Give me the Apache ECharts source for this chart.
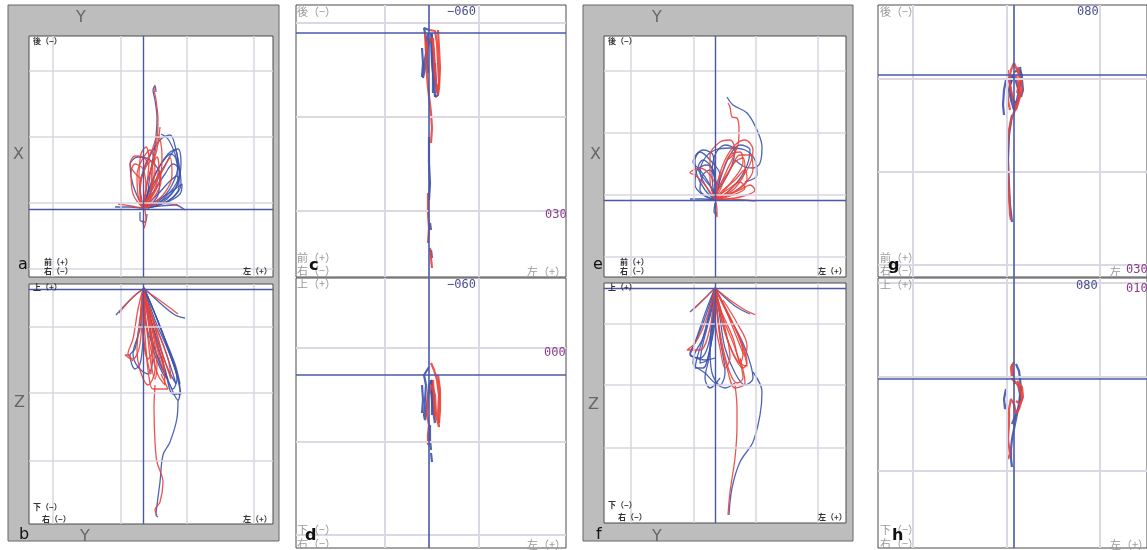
<!DOCTYPE html>
<html><head><meta charset="utf-8">
<script src="https://cdn.jsdelivr.net/npm/echarts@6/dist/echarts.min.js"></script>
<style>html,body{margin:0;padding:0;background:#fff}#c{width:1147px;height:550px}</style>
</head><body><div id="c"></div>
<script>
// ---- axis ranges (data units, origin at the crosshair) ----
const aX=[-114,130], aY=[-173,68];
const bX=[-114,130], bY=[-235,5];
const cX=[-133,137], cY=[-28,244];
const dX=[-133,137], dY=[-173,97];
const eX=[-111,131], eY=[-164,77];
const fX=[-111,131], fY=[-235,5];
const gX=[-136,133], gY=[-70,202];
const hX=[-136,133], hY=[-169,101];
// ---- grid line values ----
const aGX=[-90,-22,44,111], aGY=[-138,-72,-6,60];
const bGX=[-90,-22,44,111], bGY=[-38,-104,-172];
const cGX=[-44,50], cGY=[-10,84,178];
const dGX=[-44,50], dGY=[27,-67,-160];
const eGX=[-84,-21,41,103], eGY=[-129,-67,-5,57];
const fGX=[-84,-21,41,103], fGY=[-36,-97,-160];
const gGX=[-101,-7,86], gGY=[4,97,190];
const hGX=[-101,-7,86], hGY=[96,2,-92];
// ---- trajectories ----
const aRed=[
 [[0,-1],[7,-9],[9,-39],[14,-69],[15,-89],[13,-109],[11,-121],[12,-124]],
 [[0,-1],[-3,-19],[2,-44],[9,-59],[15,-74],[19,-54],[17,-29],[7,-9],[0,-1]],
 [[0,-1],[-5,-14],[-6,-34],[-1,-49],[7,-59],[12,-39],[7,-14],[0,-1]],
 [[0,-1],[9,-19],[20,-39],[27,-51],[29,-34],[20,-14],[2,-1]],
 [[0,-1],[-10,-15],[-12,-35],[-8,-45],[0,-40],[3,-20],[0,-1]],
 [[17,-82],[14,-60],[8,-40],[3,-22]],
 [[-25,-5],[-12,-3],[0,-1],[20,-6],[35,-4]],
 [[2,1],[3,11],[1,19],[0,11]],
 [[0,-1],[4,-25],[6,-50],[3,-62],[-2,-55],[-4,-30],[0,-1]],
 [[0,-1],[2,-15],[5,-30],[10,-45],[14,-52],[16,-40],[12,-20],[3,-3]],
 [[0,-1],[-3,-10],[-2,-28],[3,-42],[8,-48],[10,-30],[5,-10],[0,-1]],
 [[0,-1],[5,-12],[12,-25],[16,-38],[18,-28],[10,-10],[0,-1]],
 [[-2,-30],[-13,-45],[-8,-53],[0,-52],[5,-45]]
];
const aBlue=[
 [[4,-9],[7,-34],[12,-64],[14,-91],[12,-109],[10,-119],[12,-123],[13,-117]],
 [[0,-1],[7,-19],[22,-44],[32,-59],[35,-44],[29,-24],[17,-9],[2,-2]],
 [[0,-1],[-3,-24],[5,-49],[17,-69],[27,-74],[33,-59],[37,-34],[27,-14],[7,-3]],
 [[0,-1],[-10,-24],[-13,-44],[-5,-52],[7,-49],[17,-34],[15,-14],[3,-1]],
 [[0,-1],[10,-30],[25,-55],[35,-60],[38,-45],[33,-25],[15,-5]],
 [[-28,-2],[-13,-2],[0,-1],[17,-3],[32,-4],[42,1]],
 [[-3,3],[-3,11],[2,13],[4,5]],
 [[0,-1],[12,-20],[22,-35],[30,-45],[36,-40],[38,-25],[28,-10],[8,-2]],
 [[0,-1],[15,-15],[27,-28],[34,-33],[36,-22],[25,-8],[5,-1]],
 [[0,-1],[8,-25],[18,-45],[28,-55],[33,-50],[35,-30],[24,-10],[4,-1]],
 [[0,-1],[20,-12],[32,-20],[39,-25],[37,-15],[20,-5]],
 [[18,-75],[25,-70],[32,-55],[37,-35]]
];
const bRed=[
 [[0,0],[-3,-31],[-6,-61],[-3,-81],[5,-96],[12,-81],[9,-51],[0,0]],
 [[0,0],[3,-31],[8,-61],[15,-86],[22,-96],[20,-76],[10,-41],[0,0]],
 [[0,0],[-5,-20],[-10,-50],[-15,-65],[-10,-70],[-3,-55],[0,0]],
 [[0,0],[8,-25],[18,-60],[28,-90],[25,-70],[12,-35],[0,0]],
 [[0,0],[-10,-8],[-24,-24]],
 [[0,0],[15,-10],[35,-25]],
 [[12,-96],[11,-119],[12,-153],[14,-173],[20,-193],[17,-213],[12,-221],[14,-226]],
 [[-13,-66],[-18,-66],[-10,-72]],
 [[0,0],[2,-20],[0,-45],[5,-70],[10,-60],[6,-30],[0,0]],
 [[0,0],[2,-25],[5,-50],[8,-75],[12,-90],[14,-75],[10,-45],[3,-15],[0,0]],
 [[0,0],[-2,-20],[0,-45],[4,-70],[8,-85],[9,-60],[5,-30],[0,0]],
 [[0,0],[5,-20],[12,-50],[18,-75],[22,-85],[18,-60],[8,-25],[0,0]],
 [[0,0],[1,-30],[3,-60],[6,-88],[10,-100],[25,-100],[18,-85]]
];
const bBlue=[
 [[1,1],[12,-31],[27,-66],[37,-101],[35,-111],[27,-96],[12,-61],[2,-31],[1,1]],
 [[1,1],[8,-25],[20,-55],[30,-85],[33,-95],[25,-80],[14,-50],[5,-20],[1,1]],
 [[1,1],[18,-40],[32,-80],[38,-105],[30,-105],[22,-80],[10,-40],[1,1]],
 [[1,1],[5,-30],[10,-60],[20,-85],[25,-90],[17,-75],[8,-45],[1,1]],
 [[1,1],[-3,-30],[-8,-60],[-13,-66],[-8,-80],[-3,-75],[0,-50],[1,1]],
 [[1,1],[-13,-11],[-27,-26]],
 [[1,1],[17,-14],[32,-26],[42,-29]],
 [[35,-111],[34,-129],[27,-153],[20,-166],[17,-193],[14,-216],[13,-226],[15,-228]],
 [[1,1],[10,-20],[22,-50],[33,-80],[37,-95],[32,-75],[20,-45],[8,-15],[1,1]],
 [[1,1],[14,-30],[25,-60],[34,-90],[30,-100],[20,-75],[10,-40],[1,1]],
 [[1,1],[-3,-40],[-10,-65],[-5,-78],[5,-85],[10,-70]]
];
const cRed=[
 [[0,-3],[6,-2],[8,10],[9,30],[10,50],[8,60],[6,40],[5,20],[3,5]],
 [[3,5],[-2,10],[-3,30],[-1,55],[2,80],[3,95],[2,110]],
 [[9,-3],[10,15],[11,35],[10,55],[9,62]],
 [[4,5],[5,25],[6,45]],
 [[-4,0],[-3,20]],
 [[-1,160],[-1,180],[0,195],[-1,210]],
 [[1,215],[2,225],[3,235]]
];
const cBlue=[
 [[0,-3],[-5,-5],[-3,5],[-2,20],[-4,35],[-6,45],[-5,32],[-2,15],[2,5],[3,30],[5,50],[6,64],[8,62],[5,40],[4,20],[2,0]],
 [[-7,15],[-6,30],[-7,44]],
 [[3,0],[3,20],[4,40],[4,60]],
 [[-1,0],[-2,20],[-1,40]],
 [[6,30],[7,50],[9,62],[6,64]],
 [[0,104],[0,130],[1,150],[0,167]],
 [[1,190],[2,197]],
 [[2,217],[3,225]]
];
const dRed=[
 [[2,12],[5,5],[8,-5],[10,-20],[9,-40],[10,-52],[7,-40],[6,-20],[3,-10]],
 [[3,-10],[-1,-20],[-2,-40],[0,-50],[-1,-60],[-1,-70]],
 [[9,0],[11,-15],[11,-35],[10,-48]],
 [[4,-5],[5,-25],[6,-42]]
];
const dBlue=[
 [[0,8],[-5,0],[-3,-10],[-4,-25],[-5,-40],[-4,-45],[-2,-30],[0,-10],[3,-5],[4,-20],[5,-35],[6,-48],[4,-35],[2,-15]],
 [[-7,-10],[-6,-25],[-7,-38]],
 [[2,-5],[3,-20],[3,-40]],
 [[1,-50],[1,-65],[2,-75]],
 [[2,-78],[3,-87]]
];
const eRed=[
 [[13,-97],[15,-93],[17,-83],[22,-82],[24,-70],[23,-55],[18,-45],[12,-40]],
 [[0,0],[5,-15],[15,-30],[25,-45],[35,-45],[38,-30],[28,-15],[10,-3],[0,0]],
 [[0,0],[3,-20],[10,-40],[20,-55],[30,-60],[38,-50],[32,-30],[15,-10],[0,0]],
 [[0,0],[8,-10],[20,-20],[30,-30],[32,-20],[20,-8],[0,0]],
 [[0,0],[-5,-20],[-5,-45],[5,-58],[15,-60],[20,-50],[12,-30],[3,-10],[0,0]],
 [[0,0],[10,-5],[25,-10],[35,-15],[40,-10],[25,-3],[0,0]],
 [[0,0],[15,-1],[30,0],[41,1]],
 [[1,2],[2,10],[2,17],[0,10]],
 [[0,0],[5,-10],[12,-25],[20,-38],[28,-42],[30,-30],[20,-12],[5,-2],[0,0]],
 [[0,0],[2,-15],[8,-30],[15,-45],[25,-48],[28,-38],[18,-20],[3,-3]],
 [[0,0],[-10,-15],[-20,-25],[-25,-27],[-15,-32],[-5,-25],[3,-10]],
 [[0,0],[6,-6],[15,-12],[25,-18],[30,-12],[15,-4],[0,0]]
];
const eBlue=[
 [[12,-103],[18,-95],[32,-87],[42,-70],[47,-53],[45,-37],[38,-32],[30,-33],[20,-40]],
 [[0,0],[-10,-10],[-18,-25],[-20,-40],[-12,-50],[-2,-45],[0,-20],[0,0]],
 [[0,0],[-5,-15],[-15,-30],[-22,-38],[-15,-48],[-5,-40],[5,-25],[0,0]],
 [[0,0],[-12,-5],[-20,-15],[-18,-30],[-8,-35],[0,-25],[0,0]],
 [[0,0],[5,-20],[15,-45],[25,-55],[35,-50],[30,-30],[15,-10],[0,0]],
 [[0,0],[-3,-25],[0,-45],[10,-55],[20,-50],[15,-30],[3,-10]],
 [[-25,-1],[-12,-1],[0,0]],
 [[0,3],[-1,12],[2,15]],
 [[0,0],[-8,-12],[-15,-28],[-10,-42],[0,-50],[15,-52],[30,-50],[40,-40],[42,-25],[30,-18]],
 [[0,0],[-2,-10],[-10,-20],[-17,-32],[-12,-40],[-3,-32],[0,-15]],
 [[0,0],[-15,-10],[-12,-25],[-5,-30],[2,-15]]
];
const fRed=[
 [[0,0],[5,-25],[12,-50],[20,-70],[28,-80],[32,-75],[25,-50],[12,-25],[0,0]],
 [[0,0],[10,-20],[20,-40],[28,-60],[32,-78],[25,-75],[18,-50],[5,-20],[0,0]],
 [[0,0],[3,-30],[8,-60],[15,-85],[22,-95],[28,-90],[20,-60],[8,-30],[0,0]],
 [[0,0],[0,-30],[5,-60],[10,-80],[15,-70],[10,-40],[0,0]],
 [[0,0],[-5,-20],[-12,-40],[-20,-55],[-28,-62],[-15,-62],[-5,-40],[0,0]],
 [[0,0],[15,-12],[30,-22],[41,-27]],
 [[0,0],[-15,-15],[-22,-22]],
 [[20,-97],[22,-120],[22,-137],[20,-170],[15,-204],[13,-227]],
 [[0,0],[4,-20],[10,-45],[18,-65],[25,-75],[28,-65],[20,-40],[8,-15],[0,0]],
 [[0,0],[8,-15],[16,-35],[24,-55],[30,-68],[32,-58],[22,-35],[8,-12]],
 [[0,0],[2,-25],[6,-55],[12,-80],[20,-100],[30,-95],[25,-70]]
];
const fBlue=[
 [[0,0],[-5,-25],[-12,-50],[-18,-70],[-20,-80],[-12,-80],[-5,-60],[0,-30],[0,0]],
 [[0,0],[-8,-20],[-15,-40],[-22,-60],[-25,-67],[-15,-70],[-5,-50],[0,0]],
 [[0,0],[-3,-30],[-5,-60],[-3,-85],[5,-97],[10,-85],[5,-50],[0,0]],
 [[0,0],[-10,-30],[-20,-55],[-25,-65],[-10,-72],[0,-70]],
 [[0,0],[5,-30],[10,-60],[20,-85],[30,-97],[38,-90],[30,-60],[15,-30],[0,0]],
 [[0,0],[-12,-12],[-25,-24]],
 [[0,0],[20,-18],[35,-26]],
 [[38,-84],[47,-104],[45,-127],[38,-154],[25,-174],[17,-200],[14,-227]],
 [[0,0],[-3,-20],[-8,-40],[-13,-60],[-15,-75],[-8,-72],[-3,-50],[0,-20]],
 [[0,0],[-6,-25],[-12,-50],[-20,-65],[-22,-75],[-10,-85],[0,-95],[10,-100],[20,-95]],
 [[0,0],[-2,-35],[-6,-70],[-10,-90],[-5,-100],[5,-90]]
];
const gRed=[
 [[0,-12],[3,-5],[7,5],[8,15],[5,25],[2,35],[0,28],[-3,15],[-5,5],[-3,-5],[0,-12]],
 [[2,0],[6,15],[3,30],[-3,45],[-6,60],[-7,80],[-6,100],[-5,120],[-4,140],[-3,145]],
 [[-6,-5],[-7,10],[-6,25],[-4,35]],
 [[4,-8],[6,5],[3,18]]
];
const gBlue=[
 [[0,-3],[5,-5],[8,0],[6,10],[4,20],[2,30],[0,35],[-3,25],[-5,15],[-3,5],[0,0],[-8,5],[-10,15],[-11,30],[-10,40]],
 [[0,0],[3,10],[6,20],[3,28],[-2,25],[-4,10],[0,0]],
 [[6,-8],[8,5],[9,15],[7,22]],
 [[-2,40],[-5,60],[-6,85],[-5,110],[-4,130],[-2,147]]
];
const hRed=[
 [[0,17],[-3,12],[-2,0],[3,-5],[6,-10],[8,-20],[5,-30],[2,-35],[0,-25],[-3,-20],[-5,-30],[-5,-45],[-6,-60],[-4,-75],[-6,-80]],
 [[3,-2],[8,-8],[9,-18],[6,-25],[2,-22]],
 [[-2,15],[-1,5],[1,-5]]
];
const hBlue=[
 [[2,15],[5,8],[6,0],[7,-10],[6,-20],[4,-30],[2,-40],[0,-50],[-2,-60],[-3,-70],[-3,-80],[-2,-88]],
 [[-8,-10],[-10,-20],[-9,-30],[-7,-25]],
 [[4,-5],[6,-15],[5,-28],[2,-35],[-2,-45]]
];

// ---- build ----
const RED='#e8443c', BLUE='#3c53ad', CROSS='#4a58a8';
const panels=[
 {box:[29,36,244,241],inv:true, xr:aX,yr:aY,gx:aGX,gy:aGY,red:aRed,blue:aBlue,big:false},
 {box:[29,284,244,240],inv:false,xr:bX,yr:bY,gx:bGX,gy:bGY,red:bRed,blue:bBlue,big:false},
 {box:[296,5,270,272],inv:true, xr:cX,yr:cY,gx:cGX,gy:cGY,red:cRed,blue:cBlue,big:true},
 {box:[296,278,270,270],inv:false,xr:dX,yr:dY,gx:dGX,gy:dGY,red:dRed,blue:dBlue,big:true},
 {box:[604,36,242,241],inv:true, xr:eX,yr:eY,gx:eGX,gy:eGY,red:eRed,blue:eBlue,big:false},
 {box:[604,283,242,240],inv:false,xr:fX,yr:fY,gx:fGX,gy:fGY,red:fRed,blue:fBlue,big:false},
 {box:[878,5,269,272],inv:true, xr:gX,yr:gY,gx:gGX,gy:gGY,red:gRed,blue:gBlue,big:true},
 {box:[878,278,269,270],inv:false,xr:hX,yr:hY,gx:hGX,gy:hGY,red:hRed,blue:hBlue,big:true}
];
const grid=[],xAxis=[],yAxis=[],series=[];
panels.forEach((p,i)=>{
  grid.push({left:p.box[0],top:p.box[1],width:p.box[2],height:p.box[3],show:true,backgroundColor:'#fff',borderColor:'#4a4a4a',borderWidth:1,containLabel:false});
  const ax={show:true,axisLine:{show:false},axisTick:{show:false},axisLabel:{show:false},splitLine:{show:false}};
  xAxis.push(Object.assign({type:'value',gridIndex:i,min:p.xr[0],max:p.xr[1]},ax));
  yAxis.push(Object.assign({type:'value',gridIndex:i,min:p.yr[0],max:p.yr[1],inverse:p.inv},ax));
  series.push({type:'line',xAxisIndex:i,yAxisIndex:i,data:[],symbol:'none',silent:true,z:1,animation:false,
    markLine:{silent:true,symbol:['none','none'],animation:false,label:{show:false},
      lineStyle:{color:p.big?'#ddd6e3':'#d8d4e2',width:p.big?2:1.5,type:'solid'},
      data:p.gx.map(v=>({xAxis:v})).concat(p.gy.map(v=>({yAxis:v})))}});
  series.push({type:'line',xAxisIndex:i,yAxisIndex:i,data:[],symbol:'none',silent:true,z:2,animation:false,
    markLine:{silent:true,symbol:['none','none'],animation:false,label:{show:false},
      lineStyle:{color:CROSS,width:p.big?1.6:1.4,type:'solid'},data:[{xAxis:0},{yAxis:0}]}});
  const add=(arr,col)=>arr.forEach(d=>series.push({type:'line',xAxisIndex:i,yAxisIndex:i,data:d,symbol:'none',silent:true,animation:false,z:3,
      smooth:p.big?false:0.35,lineStyle:{color:col,width:p.big?2.2:1.3,opacity:0.9}}));
  add(p.blue,BLUE); add(p.red,RED);
});

const JP='"Noto Sans CJK JP", sans-serif';
function t(x,y,s,size,color,weight,font){return {type:'text',x:x,y:y,z:100,silent:true,
  style:{text:s,fill:color,font:(weight||'normal')+' '+size+'px '+(font||JP),verticalAlign:'middle',align:'left'}};}
const small=(x,y,s)=>t(x,y,s,8,'#333','bold');
const mid=(x,y,s)=>t(x,y,s,11,'#999','normal');
const num=(x,y,s,c)=>t(x,y,s,12,c,'normal','"DejaVu Sans Mono", monospace');
const lab=(x,y,s)=>t(x,y,s,16,'#111','normal','"DejaVu Sans", sans-serif');
const axl=(x,y,s)=>t(x,y,s,16,'#666','normal','"DejaVu Sans", sans-serif');
const NB='#4a4f90', PU='#8b3a8b';
const graphic=[
  {type:'rect',z:-10,shape:{x:8,y:5,width:271,height:536},style:{fill:'#bdbdbd',stroke:'#666',lineWidth:1}},
  {type:'rect',z:-10,shape:{x:583,y:5,width:270,height:536},style:{fill:'#bdbdbd',stroke:'#666',lineWidth:1}},
  // a
  small(33,41,'後（−）'),small(44,262,'前（+）'),small(44,271,'右（−）'),small(243,271,'左（+）'),
  lab(18,265,'a'),axl(76,18,'Y'),axl(13,155,'X'),
  // b
  small(33,287,'上（+）'),small(33,507,'下（−）'),small(42,519,'右（−）'),small(243,519,'左（+）'),
  lab(19,535,'b'),axl(80,537,'Y'),axl(14,403,'Z'),
  // c
  mid(297,12,'後（−）'),num(447,12,'−060',NB),num(545,215,'030',PU),mid(297,258,'前（+）'),mid(297,271,'右（−）'),mid(527,272,'左（+）'),
  t(309,266,'c',16,'#111','bold','"DejaVu Sans", sans-serif'),
  // d
  mid(297,284,'上（+）'),num(447,285,'−060',NB),num(544,353,'000',PU),mid(297,530,'下（−）'),mid(297,544,'右（−）'),mid(527,545,'左（+）'),
  t(305,536,'d',16,'#111','bold','"DejaVu Sans", sans-serif'),
  // e
  small(608,41,'後（−）'),small(620,262,'前（+）'),small(620,271,'右（−）'),small(818,271,'左（+）'),
  lab(593,265,'e'),axl(652,18,'Y'),axl(590,155,'X'),
  // f
  small(608,287,'上（+）'),small(608,505,'下（−）'),small(618,517,'右（−）'),small(818,517,'左（+）'),
  lab(596,535,'f'),axl(652,537,'Y'),axl(588,405,'Z'),
  // g
  mid(880,12,'後（−）'),num(1077,12,'080',NB),mid(880,258,'前（+）'),mid(880,271,'右（−）'),mid(1110,272,'左'),num(1126,270,'030',PU),
  t(888,266,'g',16,'#111','bold','"DejaVu Sans", sans-serif'),
  // h
  mid(880,285,'上（+）'),num(1076,286,'080',NB),num(1126,289,'010',PU),mid(880,530,'下（−）'),mid(880,544,'右（−）'),mid(1110,545,'左（+）'),
  t(892,536,'h',16,'#111','bold','"DejaVu Sans", sans-serif')
];
const chart=echarts.init(document.getElementById('c'),null,{renderer:'canvas'});
chart.setOption({animation:false,backgroundColor:'#fff',grid,xAxis,yAxis,series,graphic});
</script></body></html>
